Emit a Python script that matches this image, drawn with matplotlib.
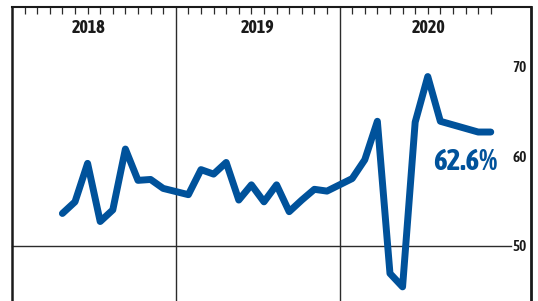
import matplotlib

matplotlib.use("Agg")
from matplotlib import pyplot as plt
from matplotlib import transforms

# monthly readings, April 2018 through December 2020
years = ["2018", "2019", "2020"]
months_2018 = [4, 5, 6, 7, 8, 9, 10, 11, 12]
values_2018 = [53.6, 54.9, 59.2, 52.7, 54.0, 60.8, 57.3, 57.4, 56.4]
months_2019 = [1, 2, 3, 4, 5, 6, 7, 8, 9, 10, 11, 12]
values_2019 = [55.7, 58.5, 58.0, 59.3, 55.1, 56.8, 54.9, 56.8, 53.8, 55.1, 56.3, 56.1]
months_2020 = [1, 2, 3, 4, 5, 6, 7, 8, 9, 10, 11, 12]
values_2020 = [57.5, 59.6, 63.9, 46.9, 45.4, 63.8, 68.9, 63.9, 63.5, 63.1, 62.7, 62.7]
y_ticks = [50, 60, 70]
last_label = "62.6%"

LINE_BLUE = "#00529b"
DARK = "#2b2b2b"
SLOTS_PER_YEAR = 13  # 12 month ticks plus the year divider

x_vals = []
y_vals = []
for year_index, (months, values) in enumerate(
    [(months_2018, values_2018), (months_2019, values_2019), (months_2020, values_2020)]
):
    x_vals += [year_index * SLOTS_PER_YEAR + m for m in months]
    y_vals += values

plt.rcParams["font.family"] = ["Asap Condensed", "Archivo Narrow", "DejaVu Sans"]

fig = plt.figure(figsize=(5.38, 3.01), dpi=100)
fig.patch.set_facecolor("white")
ax = fig.add_axes([12 / 538, 0.0, (530.7 - 12) / 538, (301 - 7) / 301])

ax.set_xlim(0, 41.17)
ax.set_ylim(43.82, 76.67)

# year dividers and 50 gridline
for k in (1, 2):
    ax.axvline(k * SLOTS_PER_YEAR, color=DARK, linewidth=1.0, zorder=1)
ax.plot([0, 39.6], [50, 50], color=DARK, linewidth=1.0, zorder=1, clip_on=False)

ax.plot(
    x_vals,
    y_vals,
    color=LINE_BLUE,
    linewidth=5.0,
    solid_capstyle="round",
    solid_joinstyle="round",
    zorder=3,
)

# month ticks along the top
tick_positions = [
    k * SLOTS_PER_YEAR + m for k in range(len(years)) for m in range(1, 13)
]
ax.set_xticks(tick_positions)
ax.xaxis.tick_top()
ax.tick_params(axis="x", direction="in", length=5, width=0.9, color=DARK, labeltop=False)
ax.set_yticks([])

for name, spine in ax.spines.items():
    spine.set_color("#1a1a1a")
ax.spines["bottom"].set_visible(False)
ax.spines["left"].set_linewidth(1.8)
ax.spines["top"].set_linewidth(1.5)
ax.spines["right"].set_linewidth(2.0)

# year labels
year_centers = [6.06, 19.48, 33.04]
for name, xc in zip(years, year_centers):
    ax.text(
        xc, 73.73, name,
        ha="center", va="baseline",
        fontsize=13, fontweight="bold", color="#1a1a1a",
    )

# value labels inside right edge
label_trans = transforms.blended_transform_factory(ax.transAxes, ax.transData)
for v in y_ticks:
    ax.text(
        0.979, v - 0.6, str(v),
        transform=label_trans,
        ha="center", va="baseline",
        fontsize=11, fontweight="semibold", color="#1a1a1a",
    )

ax.text(
    36.0, 58.46, last_label,
    ha="center", va="baseline",
    fontsize=21, fontweight="bold", color=LINE_BLUE,
)

fig.savefig("out.png", dpi=100, facecolor="white")
plt.close(fig)
